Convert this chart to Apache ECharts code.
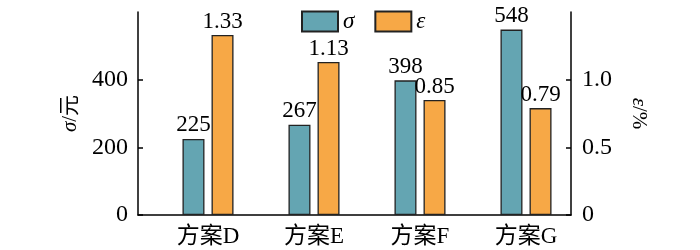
<!DOCTYPE html>
<html><head><meta charset="utf-8">
<script src="https://cdn.jsdelivr.net/npm/echarts@6/dist/echarts.min.js"></script>
<style>html,body{margin:0;padding:0;background:#fff}#c{width:700px;height:250px}</style>
</head><body><div id="c"></div>
<script>
const categories = ['方案D', '方案E', '方案F', '方案G'];
const sigmaValues = [225, 267, 398, 548];
const epsValues = [1.33, 1.13, 0.85, 0.79];
const leftTicks = [0, 200, 400];
const rightTicks = [0, 0.5, 1.0];

const FONT = '"Liberation Serif", "Times New Roman", "Noto Sans CJK SC", serif';
const FS = 23;
const chart = echarts.init(document.getElementById('c'));
const lineStyle = {color: '#000', width: 1.5};
const tickFmtR = v => v === 0 ? '0' : v.toFixed(1);
const tickFmtL = v => String(v);

chart.setOption({
  animation: false,
  textStyle: {fontFamily: FONT},
  legend: {
    top: 5, left: 296, itemWidth: 36, itemHeight: 20, itemGap: 20, icon: 'rect',
    textStyle: {fontFamily: FONT, fontSize: FS, fontStyle: 'italic', color: '#000'},
    data: ['σ', 'ε']
  },
  grid: [
    {left: 138, right: 129, top: 12, bottom: 35},
    {left: 155, right: 121, top: 12, bottom: 35}
  ],
  xAxis: [{
    gridIndex: 0, type: 'category', data: [''],
    axisLine: {show: true, lineStyle}, axisTick: {show: false}, axisLabel: {show: false}
  }, {
    gridIndex: 1, type: 'category', data: categories,
    axisLine: {show: false}, axisTick: {show: false},
    axisLabel: {color: '#000', fontSize: FS, fontFamily: FONT, margin: 10}
  }],
  yAxis: [{
    gridIndex: 0, type: 'value', min: 0, max: 600, interval: 200, position: 'left',
    name: '{i|σ}/元', nameLocation: 'middle', nameGap: 54,
    nameTextStyle: {fontFamily: FONT, fontSize: 21, color: '#000',
      rich: {i: {fontFamily: FONT, fontSize: 21, fontStyle: 'italic', color: '#000'}}},
    axisLine: {show: true, lineStyle},
    axisTick: {show: true, inside: true, length: 5, lineStyle},
    axisLabel: {color: '#000', fontSize: 24, fontFamily: FONT, margin: 10, showMaxLabel: false,
      formatter: v => leftTicks.includes(v) ? tickFmtL(v) : ''},
    splitLine: {show: false}
  }, {
    gridIndex: 0, type: 'value', min: 0, max: 1.5, interval: 0.5, position: 'right',
    name: '{i|ε}/%', nameLocation: 'middle', nameGap: 57, nameRotate: -90,
    nameTextStyle: {fontFamily: FONT, fontSize: 21, color: '#000',
      rich: {i: {fontFamily: FONT, fontSize: 21, fontStyle: 'italic', color: '#000'}}},
    axisLine: {show: true, lineStyle},
    axisTick: {show: true, inside: true, length: 5, lineStyle},
    axisLabel: {color: '#000', fontSize: 24, fontFamily: FONT, margin: 11, showMaxLabel: false,
      formatter: v => rightTicks.includes(v) ? tickFmtR(v) : ''},
    splitLine: {show: false}
  }, {
    gridIndex: 1, type: 'value', min: 0, max: 600, show: false
  }, {
    gridIndex: 1, type: 'value', min: 0, max: 1.5, show: false
  }],
  series: [{
    name: 'σ', type: 'bar', xAxisIndex: 1, yAxisIndex: 2, data: sigmaValues,
    barWidth: 22, barGap: '32%',
    itemStyle: {color: '#64A5B2', borderColor: '#222', borderWidth: 1.3},
    label: {show: true, position: 'top', distance: 2, color: '#000', fontSize: FS, fontFamily: FONT}
  }, {
    name: 'ε', type: 'bar', xAxisIndex: 1, yAxisIndex: 3, data: epsValues,
    barWidth: 22,
    itemStyle: {color: '#F7A846', borderColor: '#222', borderWidth: 1.3},
    label: {show: true, position: 'top', distance: 2, color: '#000', fontSize: FS, fontFamily: FONT,
      formatter: p => p.value.toFixed(2)}
  }]
});
</script></body></html>
